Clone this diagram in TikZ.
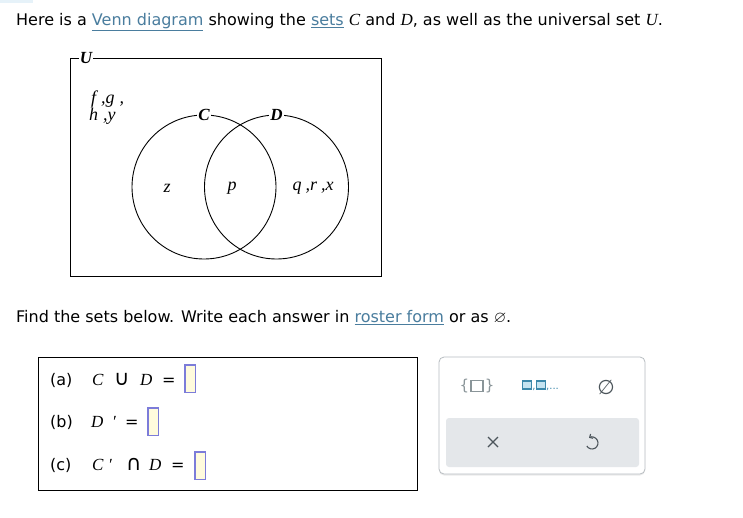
\documentclass[tikz,border=0pt]{standalone}
\usepackage{amssymb}
\usepackage{fontspec}
\setmainfont{DejaVu Sans}
\newfontfamily\vennfont{Liberation Serif}
\usetikzlibrary{shadows, arrows.meta}
\definecolor{linkblue}{HTML}{4A7D9E}
\definecolor{boxblue}{HTML}{7C7CD9}
\definecolor{boxfill}{HTML}{FFFBDD}
\definecolor{panelgray}{HTML}{E4E7EA}
\definecolor{panelline}{HTML}{B8BDC1}
\definecolor{icongray}{HTML}{8A9599}
\definecolor{iconteal}{HTML}{3C88AA}
\definecolor{iconfill}{HTML}{C5E3F0}
\definecolor{icondark}{HTML}{4C555B}
\definecolor{tabblue}{HTML}{E6F2F9}
\newcommand{\linktext}[1]{{\color{linkblue}\underline{#1}}}
\newcommand{\setvar}[1]{{\vennfont\itshape\fontsize{17}{17}\selectfont #1}}
\newcommand{\setop}[1]{{\fontsize{21}{21}\selectfont #1}}
\tikzset{>=latex,
  prose/.style={anchor=base west, inner sep=0pt, font=\fontsize{16}{19}\selectfont},
  setlabel/.style={font=\vennfont\bfseries\itshape\fontsize{17}{17}\selectfont, fill=white, inner sep=1pt},
  elem/.style={font=\vennfont\itshape\fontsize{18}{18}\selectfont, inner sep=0pt},
  setcircle/.style={draw, circle, line width=0.9pt, minimum size=144pt, inner sep=0pt},
  ansbox/.style={draw=boxblue, fill=boxfill, line width=1.5pt, minimum width=10.5pt, minimum height=27.5pt, inner sep=0pt},
  tinysq/.style={draw=iconteal, fill=iconfill, line width=1.2pt, minimum width=9pt, minimum height=8pt, inner sep=0pt},
}

\begin{document}
\begin{tikzpicture}[x=1pt, y=-1pt]

% Page
\fill[white] (0,0) rectangle (743,517);
\useasboundingbox (0,0) rectangle (743,517);
\fill[tabblue] (0,0) rectangle (33,3);

% Intro text
\node[prose] (intro) at (16,25) {Here is a \linktext{Venn diagram} showing the \linktext{sets} \setvar{C} and \setvar{D}, as well as the universal set \setvar{U}.};

% Universal set and circles
\node[draw, line width=0.9pt, minimum width=311pt, minimum height=218pt] (univ) at (225.5,167) {};
\node[setlabel] (Ulab) at (86,58) {U};
\node[setcircle] (circC) at (204,187) {};
\node[setcircle] (circD) at (276.5,187) {};
\node[setlabel] (Clab) at (circC.north) {C};
\node[setlabel] (Dlab) at (circD.north) {D};

% Elements
\node[elem, anchor=base west] (outtop) at (91,103) {f\hspace{5pt},g\hspace{5pt},};
\node[elem, anchor=base west] (outbot) at (89,120) {h\hspace{5pt},y};
\node[elem] (onlyC) at (167,188) {z};
\node[elem] (both) at (232,188) {p};
\node[elem] (onlyD) at (313,188) {q\hspace{4pt},r\hspace{4pt},x};

% Task text
\node[prose] (task) at (16,322) {Find the sets below. Write each answer in \linktext{roster form} or as $\varnothing$.};

% Questions
\node[draw, line width=0.9pt, minimum width=379pt, minimum height=133pt] (qbox) at (227.5,423.5) {};
\node[prose] (qa) at (50,385) {(a)};
\node[prose] (qaexpr) at (92,385) {\makebox[22pt][l]{\setvar{C}}\makebox[26pt][l]{\setop{∪}}\makebox[22pt][l]{\setvar{D}}=};
\node[ansbox] (ansa) at (190,378.5) {};
\node[prose] (qb) at (50,427) {(b)};
\node[prose] (qbexpr) at (91,427) {\makebox[21pt][l]{\setvar{D}}\makebox[13pt][l]{\setvar{′}}=};
\node[ansbox] (ansb) at (153,421.5) {};
\node[prose] (qc) at (50,470) {(c)};
\node[prose] (qcexpr) at (92,470) {\makebox[16pt][l]{\setvar{C}}\makebox[18pt][l]{\setvar{′}}\makebox[23pt][l]{\setop{∩}}\makebox[22pt][l]{\setvar{D}}=};
\node[ansbox] (ansc) at (200,465.5) {};

% Tool panel
\node[draw=panelline, fill=white, rounded corners=5pt, line width=0.8pt, minimum width=206pt, minimum height=117pt,
  drop shadow={opacity=0.15, shadow xshift=0pt, shadow yshift=-1.5pt}] (tools) at (542,415.5) {};
\node[fill=panelgray, rounded corners=3pt, minimum width=193pt, minimum height=49pt] (toolrow) at (542.5,442.5) {};

% Icons
\node[draw=icongray, fill=white, line width=1.3pt, minimum width=12pt, minimum height=11pt, inner sep=0pt] (setsq) at (477,386) {};
\node[text=icongray, font=\fontsize{15}{15}\selectfont, inner sep=0pt, left=1pt] (lbrace) at (setsq.west) {\{};
\node[text=icongray, font=\fontsize{15}{15}\selectfont, inner sep=0pt, right=1pt] (rbrace) at (setsq.east) {\}};
\node[tinysq] (sqone) at (527,385) {};
\node[tinysq] (sqtwo) at (541,385) {};
\node[text=iconteal, font=\fontsize{10}{10}\selectfont, inner sep=0pt] (comma) at (534,389) {,};
\node[text=iconteal, font=\fontsize{10}{10}\selectfont, inner sep=0pt, anchor=west] (dots) at (546,389) {,...};
\node[text=icondark, font=\fontsize{20}{20}\selectfont, inner sep=0pt] (emptyset) at (606,387) {∅};
\draw[icondark, line width=1.1pt] (488,437) -- (498,447) (498,437) -- (488,447);
\draw[icondark, line width=1.1pt, -{Straight Barb[length=2.5pt]}] (586.8,446) arc[start angle=-210, end angle=-480, radius=6];

\end{tikzpicture}
\end{document}
